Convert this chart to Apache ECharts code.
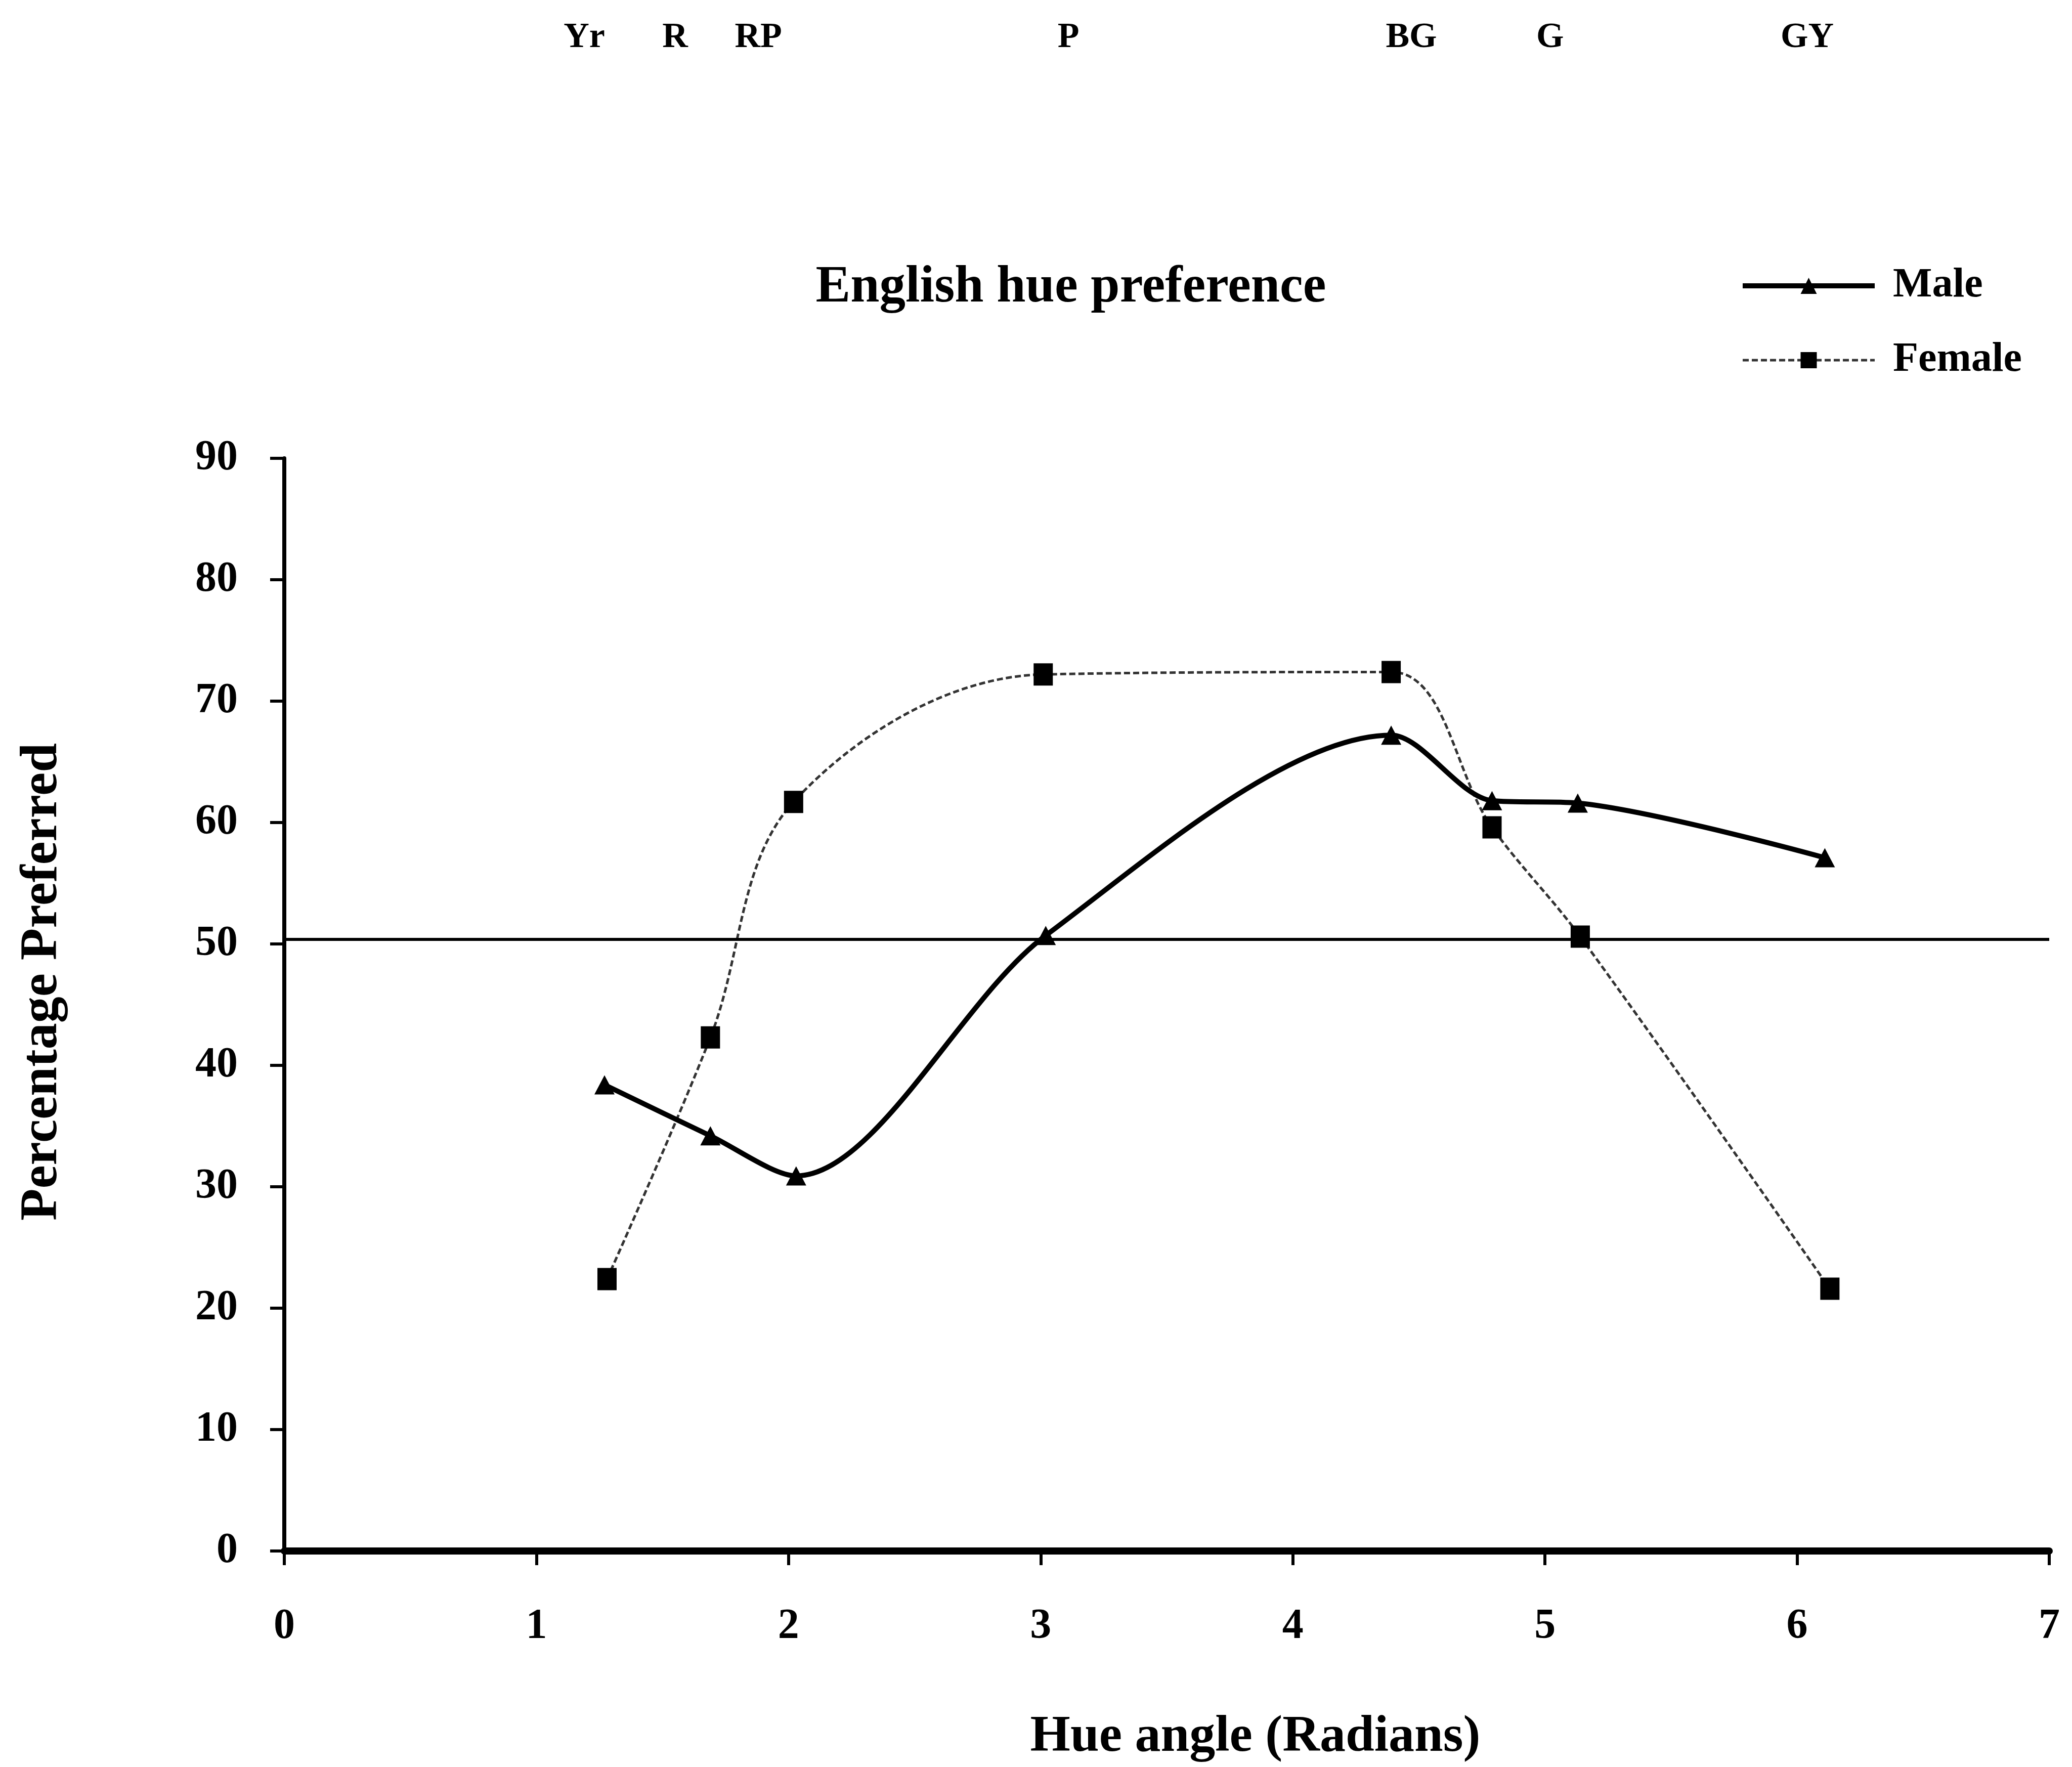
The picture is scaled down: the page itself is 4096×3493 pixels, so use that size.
<!DOCTYPE html>
<html>
<head>
<meta charset="utf-8">
<script src="https://cdn.jsdelivr.net/npm/echarts@6/dist/echarts.min.js"></script>
<style>
html,body{margin:0;padding:0;background:#fff;}
#chart{width:4096px;height:3493px;}
</style>
</head>
<body>
<div id="chart"></div>
<script>
// ---- data ----
const maleX   = [1.27, 1.69, 2.03, 3.02, 4.39, 4.79, 5.13, 6.11];
const maleY   = [38.4, 34.2, 30.9, 50.7, 67.2, 61.8, 61.6, 57.1];
const femaleX = [1.28, 1.69, 2.02, 3.01, 4.39, 4.79, 5.14, 6.13];
const femaleY = [22.4, 42.3, 61.7, 72.2, 72.4, 59.6, 50.6, 21.6];
const hueNames = ['Yr', 'R', 'RP', 'P', 'BG', 'G', 'GY'];
const hueNameX = [1.19, 1.55, 1.88, 3.11, 4.47, 5.02, 6.04];
const referenceLevel = 50.4;
const xTicks = [0, 1, 2, 3, 4, 5, 6, 7];
const yTicks = [0, 10, 20, 30, 40, 50, 60, 70, 80, 90];

const FONT = "'Liberation Serif','Times New Roman',serif";
const zip = (xs, ys) => xs.map((x, i) => [x, ys[i]]);

const chart = echarts.init(document.getElementById('chart'), null, {renderer: 'canvas'});
const option = {
  backgroundColor: '#fff',
  animation: false,
  title: {
    text: 'English hue preference',
    left: 2117, top: 517, textAlign: 'center', padding: 0,
    textStyle: {fontFamily: FONT, fontWeight: 'bold', fontSize: 103, color: '#000', lineHeight: 104}
  },
  legend: {
    orient: 'vertical', left: 3440, top: 524, padding: 0,
    itemWidth: 261, itemHeight: 40, itemGap: 65,
    data: [
      {name: 'Male', lineStyle: {color: '#000', width: 10, type: 'solid'}, itemStyle: {color: '#000'}},
      {name: 'Female', lineStyle: {color: '#333', width: 5, type: [12, 6]}, itemStyle: {color: '#000'}}
    ],
    textStyle: {fontFamily: FONT, fontWeight: 'bold', fontSize: 82, color: '#000', lineHeight: 82, padding: [0, 0, 0, 31]}
  },
  grid: [
    {left: 562, right: 45, top: 906, bottom: 427, containLabel: false, outerBoundsMode: 'none'},
    {left: 562, right: 45, top: 0, height: 150, containLabel: false, outerBoundsMode: 'none'}
  ],
  xAxis: [
    {
      type: 'value', gridIndex: 0, min: xTicks[0], max: xTicks[xTicks.length - 1], interval: 1,
      name: 'Hue angle (Radians)', nameLocation: 'middle', nameGap: 318,
      nameTextStyle: {fontFamily: FONT, fontWeight: 'bold', fontSize: 102, color: '#000', padding: [0, 0, 0, 350]},
      axisLine: {show: true, onZero: false, lineStyle: {color: '#000', width: 14}},
      axisTick: {show: true, inside: false, length: 28, lineStyle: {color: '#000', width: 6}},
      axisLabel: {show: true, margin: 108, fontFamily: FONT, fontWeight: 'bold', fontSize: 84, color: '#000', showMinLabel: true, showMaxLabel: true, hideOverlap: false},
      splitLine: {show: false}
    },
    {type: 'value', gridIndex: 1, min: 0, max: 7, show: false}
  ],
  yAxis: [
    {
      type: 'value', gridIndex: 0, min: yTicks[0], max: yTicks[yTicks.length - 1], interval: 10,
      name: 'Percentage Preferred', nameLocation: 'middle', nameRotate: 90, nameGap: 426,
      nameTextStyle: {fontFamily: FONT, fontWeight: 'bold', fontSize: 104, color: '#000', padding: [0, 0, 0, 90]},
      axisLine: {show: true, onZero: false, lineStyle: {color: '#000', width: 8}},
      axisTick: {show: true, inside: false, length: 28, lineStyle: {color: '#000', width: 6}},
      axisLabel: {show: true, margin: 92, fontFamily: FONT, fontWeight: 'bold', fontSize: 84, color: '#000', showMinLabel: true, showMaxLabel: true, hideOverlap: false},
      splitLine: {show: false}
    },
    {type: 'value', gridIndex: 1, min: 0, max: 1, show: false}
  ],
  series: [
    {
      name: 'Male', type: 'line', xAxisIndex: 0, yAxisIndex: 0,
      data: zip(maleX, maleY), smooth: 0.3,
      symbol: 'triangle', symbolSize: [40, 38],
      lineStyle: {color: '#000', width: 10},
      itemStyle: {color: '#000'},
      markLine: {
        silent: true, symbol: 'none', label: {show: false},
        lineStyle: {color: '#000', width: 6, type: 'solid'},
        data: [{yAxis: referenceLevel}]
      },
      z: 3
    },
    {
      name: 'Female', type: 'line', xAxisIndex: 0, yAxisIndex: 0,
      data: zip(femaleX, femaleY), smooth: 0.35,
      symbol: 'rect', symbolSize: [38, 44],
      lineStyle: {color: '#333', width: 5, type: [12, 6]},
      itemStyle: {color: '#000'},
      z: 2
    },
    {
      name: 'hue names', type: 'scatter', xAxisIndex: 1, yAxisIndex: 1,
      data: hueNameX.map((x, i) => ({value: [x, 0.5], name: hueNames[i]})),
      symbolSize: 2, itemStyle: {color: 'rgba(0,0,0,0)'},
      label: {show: true, position: 'inside', formatter: p => p.name, opacity: 1,
        fontFamily: FONT, fontWeight: 'bold', fontSize: 70, color: '#000', textBorderWidth: 0},
      emphasis: {disabled: true},
      silent: true
    }
  ]
};
chart.setOption(option);
</script>
</body>
</html>
